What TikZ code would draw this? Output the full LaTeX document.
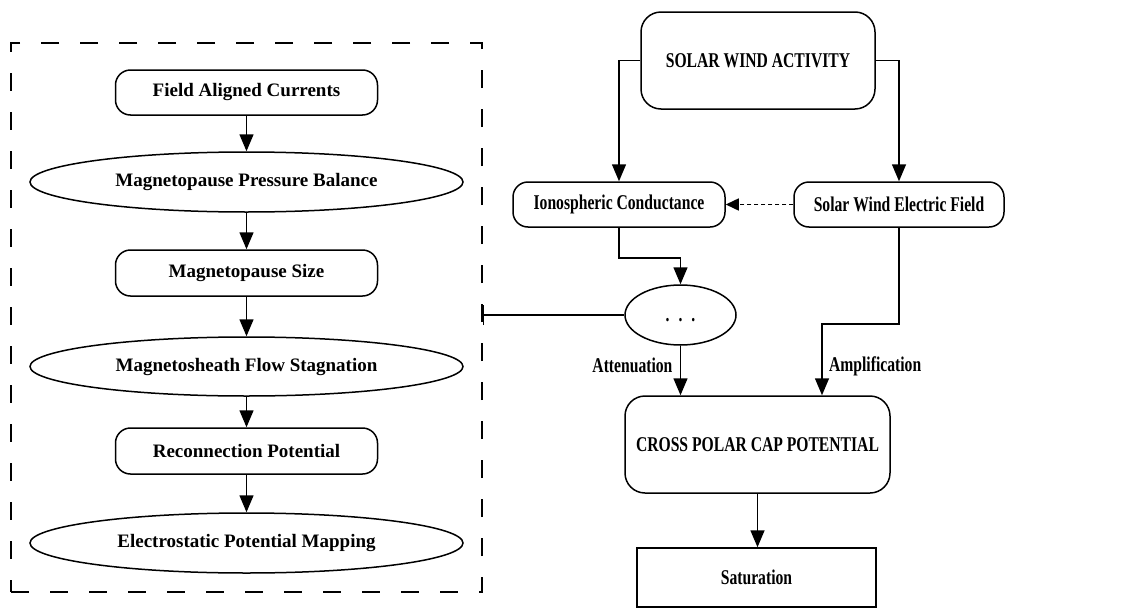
\documentclass[tikz,border=0pt]{standalone}
\usepackage{fontspec}
\setmainfont{Liberation Serif}
\newfontfamily\condfont[FakeStretch=0.745]{Liberation Serif}
\usetikzlibrary{arrows.meta,shapes.geometric}
\begin{document}
\begin{tikzpicture}[x=1pt,y=-1pt,
  line width=1.5pt,
  ltxt/.style={font=\fontsize{19}{22}\selectfont\bfseries},
  rtxt/.style={font=\condfont\fontsize{21}{25}\selectfont\bfseries},
  rbox/.style={draw, rounded corners=15pt, inner sep=0pt},
  bigbox/.style={draw, rounded corners=20pt, inner sep=0pt},
  ebox/.style={draw, ellipse, inner sep=0pt},
  arr/.style={-{Triangle[length=17pt,width=14pt]}},
]
\useasboundingbox (0,0) rectangle (1125,608);

% dashed group
\node[draw, line width=1.7pt, dash pattern=on 18pt off 21pt, minimum width=471pt, minimum height=549pt, inner sep=0pt] (grp) at (246.5,317.5) {};

% left column
\node[rbox, ltxt, minimum width=262pt, minimum height=45pt] (fac) at (246.5,92.5) {Field Aligned Currents};
\node[ebox, ltxt, minimum width=433pt, minimum height=60pt] (mpb) at (246.5,182) {Magnetopause Pressure Balance};
\node[rbox, ltxt, minimum width=262pt, minimum height=46pt] (mps) at (246.5,273) {Magnetopause Size};
\node[ebox, ltxt, minimum width=433pt, minimum height=59pt] (mfs) at (246.5,366.5) {Magnetosheath Flow Stagnation};
\node[rbox, ltxt, minimum width=262pt, minimum height=46pt] (rp) at (246.5,451) {Reconnection Potential};
\node[ebox, ltxt, minimum width=433pt, minimum height=60pt] (epm) at (246.5,543) {Electrostatic Potential Mapping};

\draw[arr] (fac) -- (mpb);
\draw[arr] (mpb) -- (mps);
\draw[arr] (mps) -- (mfs);
\draw[arr] (mfs) -- (rp);
\draw[arr] (rp) -- (epm);

% right side
\node[bigbox, rtxt, minimum width=234pt, minimum height=97pt] (swa) at (758,60.5) {SOLAR WIND ACTIVITY};
\node[rbox, rtxt, minimum width=212pt, minimum height=45pt] (ic) at (619,204.5) {Ionospheric Conductance};
\node[rbox, rtxt, minimum width=210pt, minimum height=45pt] (swef) at (899,204.5) {Solar Wind Electric Field};
\node[ebox, rtxt, minimum width=111pt, minimum height=60pt] (dots) at (680.5,315) {\vphantom{A}.\hspace{9pt}.\hspace{9pt}.};
\node[bigbox, rtxt, minimum width=265pt, minimum height=97pt] (cpcp) at (757.5,444.5) {CROSS POLAR CAP POTENTIAL};
\node[draw, rtxt, inner sep=0pt, minimum width=239pt, minimum height=59pt] (sat) at (756.5,577.5) {Saturation};

\draw[arr] (swa.west) -| (ic.north);
\draw[arr] (swa.east) -| (swef.north);
\draw[-{Triangle[length=13pt,width=12pt]}, dash pattern=on 4pt off 3pt] (swef.west) -- (ic.east);
\draw[arr] (ic.south) -- ++(0,30) -| (dots.north);
\draw[{Bar[width=20pt]}-] (grp.east |- dots.west) -- (dots.west);
\draw[arr] (dots.south) -- node[rtxt, left=4pt, pos=0.4] {Attenuation} (dots.south |- cpcp.north);
\draw[arr] (swef.south) -- ++(0,96) -| node[rtxt, right=3pt, pos=0.8] {Amplification} ([xshift=64.5pt]cpcp.north);
\draw[arr] (cpcp.south) -- (cpcp.south |- sat.north);
\end{tikzpicture}
\end{document}
